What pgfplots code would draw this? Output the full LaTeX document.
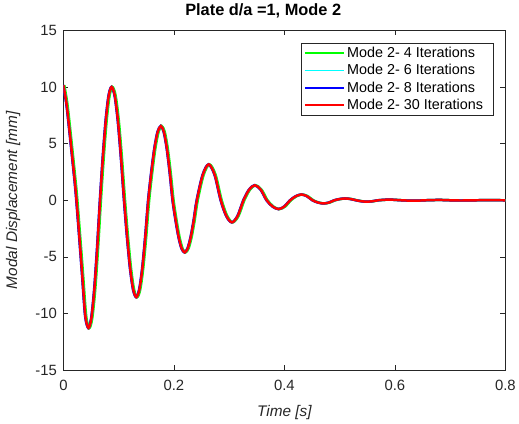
\documentclass[border=0pt]{standalone}
\usepackage{fontspec}
\setmainfont{Liberation Sans}
\usepackage{pgfplots}
\pgfplotsset{compat=1.18}
\usepackage{pgfplotstable}

\pgfplotstableread{
t y
0 10.17
0.0057 8.5
0.0114 6.0
0.0170 3.4
0.0227 0.6
0.0284 -2.9
0.0340 -6.5
0.0397 -10.2
0.0454 -11.27
0.05065 -10.41
0.0559 -7.97
0.06115 -4.31
0.0664 0
0.0716 3.83
0.07685 7.07
0.0821 9.24
0.0873 10.0
0.0930 9.24
0.09865 7.07
0.1043 3.83
0.1100 0
0.1155 -3.27
0.1210 -6.05
0.1265 -7.90
0.1320 -8.55
0.13743 -7.90
0.14285 -6.05
0.14828 -3.27
0.1537 0
0.1594 2.51
0.1651 4.63
0.1708 6.05
0.1765 6.55
0.18185 6.05
0.1872 4.63
0.19255 2.51
0.1979 0
0.2033 -1.76
0.2087 -3.25
0.2141 -4.25
0.2195 -4.6
0.2250 -4.25
0.23055 -3.25
0.2361 -1.76
0.2416 0
0.2523 2.24
0.2630 3.17
0.2740 2.24
0.2850 0
0.2950 -1.38
0.3050 -1.95
0.3155 -1.38
0.3260 0
0.33625 0.94
0.3465 1.33
0.35725 0.94
0.3680 0
0.37875 -0.55
0.3895 -0.78
0.4000 -0.55
0.4105 0
0.42075 0.36
0.4310 0.51
0.4410 0.36
0.4510 0
0.4610 -0.2
0.4710 -0.28
0.48075 -0.2
0.4905 0
0.50025 0.11
0.5100 0.16
0.5200 0.11
0.5300 0
0.5395 -0.085
0.5490 -0.12
0.5595 -0.085
0.5700 0
0.5900 0.06
0.6120 0
0.6350 -0.04
0.6550 0
0.6800 0.03
0.7000 0
0.7200 -0.02
0.7450 0
0.7700 0.01
0.8000 0
}\redtab

\definecolor{axgray}{rgb}{0.15,0.15,0.15}

\begin{document}
\begin{tikzpicture}
\begin{axis}[
  scale only axis,
  width=446bp, height=343bp,
  xmin=0, xmax=0.8, ymin=-15, ymax=15,
  xtick={0,0.2,0.4,0.6,0.8},
  xticklabels={0,0.2,0.4,0.6,0.8},
  ytick={-15,-10,-5,0,5,10,15},
  yticklabels={-15,-10,-5,0,5,10,15},
  tick align=inside,
  major tick length=5bp,
  xtick pos=both, ytick pos=both,
  axis line style={axgray, line width=0.6bp},
  tick style={axgray, line width=0.6bp},
  tick label style={font=\fontsize{15bp}{18bp}\selectfont, text=axgray},
  xticklabel style={yshift=-6bp},
  yticklabel style={xshift=-3bp},
  title={\bfseries Plate d/a =1, Mode 2},
  title style={font=\fontsize{16.5bp}{19bp}\selectfont, at={(axis description cs:0.452,1.041)}, anchor=center},
  xlabel={\itshape Time [s]},
  ylabel={\itshape Modal Displacement [mm]},
  xlabel style={font=\fontsize{15.5bp}{18bp}\selectfont, at={(axis description cs:0.5,-0.125)}, anchor=center, text=axgray},
  ylabel style={font=\fontsize{15.5bp}{18bp}\selectfont, at={(axis description cs:-0.114,0.5)}, anchor=center, text=axgray},
  legend cell align=left,
  legend image code/.code={\draw[#1, line width=1.6bp] (0bp,0bp) -- (40bp,0bp);},
  legend style={at={(axis description cs:0.9724,0.963)}, anchor=north east,
    font=\fontsize{14.5bp}{17.5bp}\selectfont, draw=axgray, line width=0.5bp,
    inner xsep=3bp, inner ysep=2bp, row sep=1.5bp,
    nodes={inner xsep=2bp, inner ysep=2bp}},
]
\addplot[color={rgb,1:red,0;green,1;blue,0}, line width=2.5bp, smooth] table[x expr=\thisrow{t}+0.0015, y=y] {\redtab};
\addlegendentry{Mode 2- 4 Iterations}
\addplot[color={rgb,1:red,0;green,1;blue,1}, line width=2.5bp, smooth] table[x=t,y=y] {\redtab};
\addlegendentry{Mode 2- 6 Iterations}
\addplot[color={rgb,1:red,0;green,0;blue,1}, line width=2.5bp, smooth] table[x expr=\thisrow{t}-0.0005,y=y] {\redtab};
\addlegendentry{Mode 2- 8 Iterations}
\addplot[color={rgb,1:red,1;green,0;blue,0}, line width=2.5bp, smooth] table[x=t,y=y] {\redtab};
\addlegendentry{Mode 2- 30 Iterations\hspace*{5bp}}
\end{axis}
\path (current axis.south west) ++(-64bp,-54bp) rectangle ++(519bp,425bp);
\end{tikzpicture}
\end{document}
